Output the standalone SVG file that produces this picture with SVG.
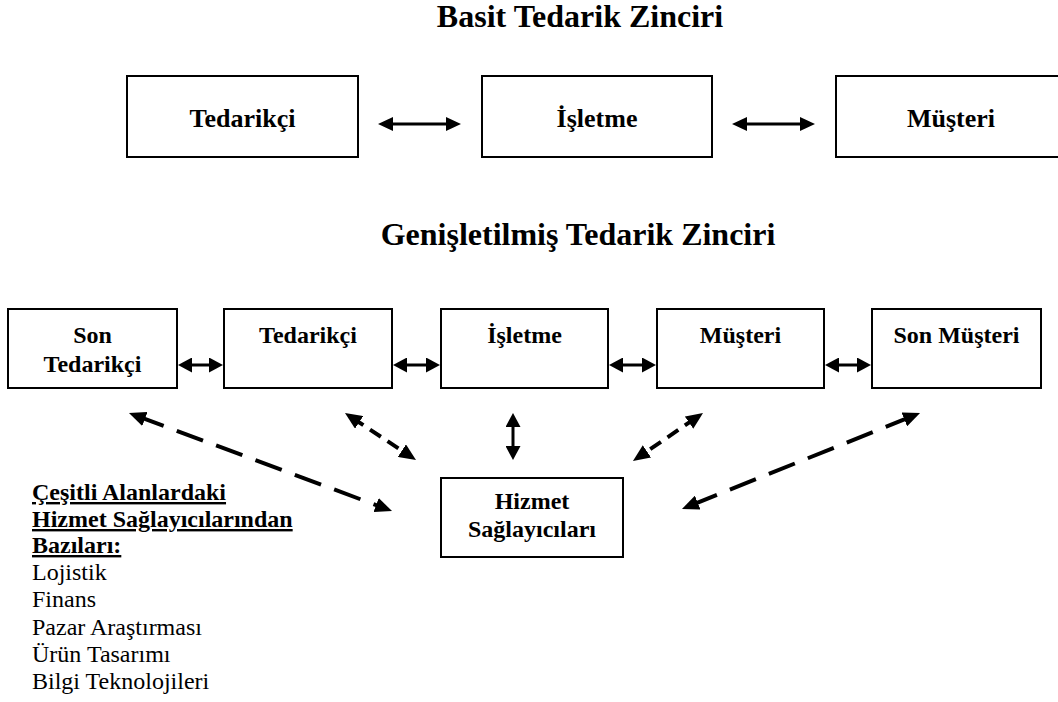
<svg xmlns="http://www.w3.org/2000/svg" width="1058" height="702" viewBox="0 0 1058 702" font-family="'Liberation Serif', 'DejaVu Serif', serif">
  <style>
    text { font-family: 'Liberation Serif', 'DejaVu Serif', serif; fill: #000; }
    .title { font-size: 32px; font-weight: bold; text-anchor: middle; }
    .lbl-lg { font-size: 26px; font-weight: bold; text-anchor: middle; }
    .lbl { font-size: 24px; font-weight: bold; text-anchor: middle; }
    .note-h { font-size: 24px; font-weight: bold; text-decoration: underline; }
    .note { font-size: 24px; }
    .box { fill: #fff; stroke: #000; stroke-width: 2; }
    .solid { stroke: #000; stroke-width: 3; fill: none; }
    .dash-long { stroke: #000; stroke-width: 4; fill: none; stroke-dasharray: 28 14; }
    .dash-short { stroke: #000; stroke-width: 4; fill: none; stroke-dasharray: 13 8; }
  </style>
  <defs>
    <marker id="head-lg" markerUnits="userSpaceOnUse" markerWidth="15" markerHeight="14" viewBox="0 0 15 14" refX="7" refY="7" orient="auto-start-reverse">
      <path d="M0,0 L15,7 L0,14 z" fill="#000"/>
    </marker>
    <marker id="head-sm" markerUnits="userSpaceOnUse" markerWidth="14" markerHeight="15" viewBox="0 0 14 15" refX="6" refY="7.5" orient="auto-start-reverse">
      <path d="M0,0 L14,7.5 L0,15 z" fill="#000"/>
    </marker>
    <marker id="head-d" markerUnits="userSpaceOnUse" markerWidth="17" markerHeight="15" viewBox="0 0 17 15" refX="8" refY="7.5" orient="auto-start-reverse">
      <path d="M0,0 L17,7.5 L0,15 z" fill="#000"/>
    </marker>
  </defs>

  <rect width="1058" height="702" fill="#fff"/>

  <!-- section headings -->
  <text class="title" x="580" y="27">Basit Tedarik Zinciri</text>
  <text class="title" x="578" y="245">Genişletilmiş Tedarik Zinciri</text>

  <!-- simple chain -->
  <g id="s-tedarikci">
    <rect class="box" x="127" y="76" width="231" height="81"/>
    <text class="lbl-lg" x="242.5" y="127">Tedarikçi</text>
  </g>
  <g id="s-isletme">
    <rect class="box" x="482" y="76" width="230" height="81"/>
    <text class="lbl-lg" x="597" y="127">İşletme</text>
  </g>
  <g id="s-musteri">
    <rect class="box" x="836" y="76" width="230" height="81"/>
    <text class="lbl-lg" x="951" y="127">Müşteri</text>
  </g>

  <!-- extended chain -->
  <g id="e-son-tedarikci">
    <rect class="box" x="8" y="309" width="169" height="79"/>
    <text class="lbl" x="92.5" y="343">Son</text>
    <text class="lbl" x="92.5" y="372">Tedarikçi</text>
  </g>
  <g id="e-tedarikci">
    <rect class="box" x="224" y="309" width="168" height="79"/>
    <text class="lbl" x="308" y="343">Tedarikçi</text>
  </g>
  <g id="e-isletme">
    <rect class="box" x="441" y="309" width="167" height="79"/>
    <text class="lbl" x="524.5" y="343">İşletme</text>
  </g>
  <g id="e-musteri">
    <rect class="box" x="657" y="309" width="167" height="79"/>
    <text class="lbl" x="740.5" y="343">Müşteri</text>
  </g>
  <g id="e-son-musteri">
    <rect class="box" x="872" y="309" width="169" height="79"/>
    <text class="lbl" x="956.5" y="343">Son Müşteri</text>
  </g>
  <g id="hizmet">
    <rect class="box" x="441" y="478" width="182" height="79"/>
    <text class="lbl" x="532" y="509">Hizmet</text>
    <text class="lbl" x="532" y="537">Sağlayıcıları</text>
  </g>

  <!-- list of service areas -->
  <g id="service-list">
    <text class="note-h" x="32" y="500">Çeşitli Alanlardaki</text>
    <text class="note-h" x="32" y="527">Hizmet Sağlayıcılarından</text>
    <text class="note-h" x="32" y="553">Bazıları:</text>
    <text class="note" x="32" y="580">Lojistik</text>
    <text class="note" x="32" y="607">Finans</text>
    <text class="note" x="32" y="635">Pazar Araştırması</text>
    <text class="note" x="32" y="662">Ürün Tasarımı</text>
    <text class="note" x="32" y="689">Bilgi Teknolojileri</text>
  </g>

  <!-- connectors -->
  <g id="connectors">
    <line class="solid" x1="386" y1="124" x2="453" y2="124" marker-start="url(#head-lg)" marker-end="url(#head-lg)"/>
    <line class="solid" x1="740" y1="124" x2="807" y2="124" marker-start="url(#head-lg)" marker-end="url(#head-lg)"/>

    <line class="solid" x1="186" y1="365" x2="215" y2="365" marker-start="url(#head-sm)" marker-end="url(#head-sm)"/>
    <line class="solid" x1="401" y1="365" x2="432" y2="365" marker-start="url(#head-sm)" marker-end="url(#head-sm)"/>
    <line class="solid" x1="617" y1="365" x2="648" y2="365" marker-start="url(#head-sm)" marker-end="url(#head-sm)"/>
    <line class="solid" x1="833" y1="365" x2="863" y2="365" marker-start="url(#head-sm)" marker-end="url(#head-sm)"/>

    <line class="solid" x1="513" y1="421" x2="513" y2="452" marker-start="url(#head-sm)" marker-end="url(#head-sm)"/>

    <line class="dash-long" x1="137.4" y1="416.1" x2="383.6" y2="507.9" marker-start="url(#head-d)" marker-end="url(#head-d)"/>
    <line class="dash-short" x1="352.5" y1="418" x2="408.5" y2="455" marker-start="url(#head-d)" marker-end="url(#head-d)"/>
    <line class="dash-short" x1="695.6" y1="418.1" x2="640.4" y2="455.9" marker-start="url(#head-d)" marker-end="url(#head-d)"/>
    <line class="dash-long" x1="911.7" y1="416.4" x2="690.3" y2="505.6" marker-start="url(#head-d)" marker-end="url(#head-d)"/>
  </g>
</svg>
